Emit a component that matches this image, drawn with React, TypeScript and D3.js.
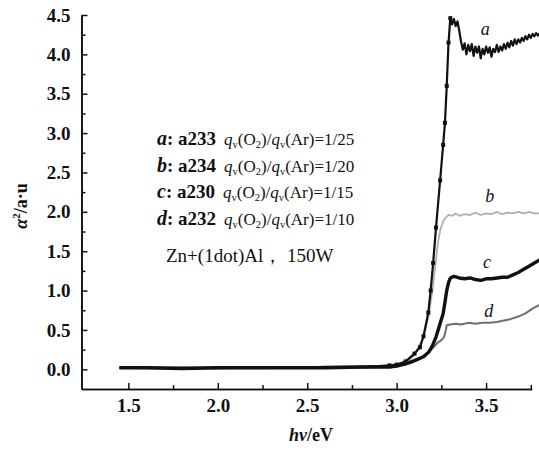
import React, { useEffect, useRef } from "react";
import * as d3 from "d3";

// photon energy (eV) and alpha^2 (a.u.)
const energyA = [1.45, 1.6, 1.8, 2.0, 2.2, 2.4, 2.6, 2.8, 2.9, 2.96, 3.0, 3.05, 3.1, 3.13, 3.15, 3.177, 3.19, 3.204, 3.22, 3.243, 3.26, 3.27, 3.28, 3.29, 3.3, 3.31, 3.32, 3.33, 3.34, 3.35, 3.36, 3.37, 3.38, 3.39, 3.4, 3.41, 3.42, 3.43, 3.44, 3.45, 3.46, 3.47, 3.48, 3.49, 3.5, 3.51, 3.52, 3.53, 3.54, 3.55, 3.56, 3.57, 3.58, 3.59, 3.6, 3.61, 3.62, 3.63, 3.64, 3.65, 3.66, 3.67, 3.68, 3.69, 3.7, 3.71, 3.72, 3.73, 3.74, 3.75, 3.76, 3.77, 3.78, 3.79, 3.8];
const alphaA = [0.02, 0.02, 0.02, 0.02, 0.02, 0.02, 0.03, 0.03, 0.04, 0.05, 0.06, 0.1, 0.2, 0.28, 0.42, 0.72, 1.0, 1.35, 1.8, 2.4, 2.85, 3.13, 3.6, 4.15, 4.46, 4.38, 4.45, 4.36, 4.42, 4.3, 4.16, 4.06, 4.14, 4.0, 4.12, 4.04, 4.13, 3.98, 4.1, 4.02, 4.1, 3.95, 4.07, 4.0, 4.1, 4.02, 4.09, 3.97, 4.07, 4.03, 4.12, 4.03, 4.1, 4.05, 4.13, 4.07, 4.15, 4.09, 4.17, 4.11, 4.19, 4.13, 4.19, 4.15, 4.21, 4.17, 4.23, 4.19, 4.25, 4.21, 4.26, 4.23, 4.27, 4.24, 4.27];

const energyB = [1.45, 1.6, 1.8, 2.0, 2.2, 2.4, 2.6, 2.8, 2.9, 2.96, 3.0, 3.05, 3.1, 3.15, 3.18, 3.2, 3.22, 3.23, 3.245, 3.26, 3.275, 3.29, 3.31, 3.33, 3.35, 3.38, 3.41, 3.44, 3.47, 3.5, 3.53, 3.56, 3.59, 3.62, 3.65, 3.68, 3.71, 3.74, 3.77, 3.8];
const alphaB = [0.02, 0.01, 0.02, 0.02, 0.01, 0.02, 0.02, 0.03, 0.03, 0.04, 0.05, 0.08, 0.18, 0.4, 0.7, 1.0, 1.4, 1.6, 1.78, 1.88, 1.93, 1.96, 1.95, 1.98, 1.95, 1.97, 1.96, 1.99, 1.96, 1.98, 1.97, 2.0, 1.97, 1.99, 1.98, 2.0, 1.98, 2.0, 1.98, 1.98];

const energyC = [1.45, 1.6, 1.8, 2.0, 2.2, 2.4, 2.6, 2.8, 2.9, 2.96, 3.0, 3.05, 3.1, 3.15, 3.18, 3.2, 3.22, 3.24, 3.26, 3.27, 3.28, 3.29, 3.3, 3.32, 3.35, 3.38, 3.41, 3.44, 3.47, 3.5, 3.53, 3.56, 3.59, 3.62, 3.65, 3.68, 3.71, 3.74, 3.77, 3.8];
const alphaC = [0.02, 0.02, 0.01, 0.02, 0.02, 0.02, 0.02, 0.03, 0.03, 0.03, 0.04, 0.07, 0.11, 0.16, 0.22, 0.3, 0.41, 0.56, 0.71, 0.85, 1.0, 1.1, 1.16, 1.18, 1.16, 1.15, 1.16, 1.14, 1.13, 1.15, 1.15, 1.16, 1.17, 1.17, 1.2, 1.23, 1.27, 1.31, 1.35, 1.39];

const energyD = [1.45, 1.6, 1.8, 2.0, 2.2, 2.4, 2.6, 2.8, 2.9, 2.96, 3.0, 3.04, 3.08, 3.13, 3.17, 3.21, 3.23, 3.25, 3.265, 3.275, 3.28, 3.3, 3.33, 3.36, 3.4, 3.44, 3.48, 3.52, 3.56, 3.6, 3.64, 3.68, 3.72, 3.76, 3.8];
const alphaD = [0.02, 0.02, 0.02, 0.01, 0.02, 0.02, 0.02, 0.02, 0.03, 0.03, 0.04, 0.06, 0.08, 0.14, 0.2, 0.29, 0.34, 0.37, 0.41, 0.5, 0.56, 0.57, 0.58, 0.57, 0.59, 0.58, 0.59, 0.59, 0.6, 0.62, 0.64, 0.67, 0.71, 0.77, 0.82];

// legend rows
const sampleLetters = ["a", "b", "c", "d"];
const sampleIds = ["a233", "a234", "a230", "a232"];
const flowRatios = ["1/25", "1/20", "1/15", "1/10"];
const targetNote = "Zn+(1dot)Al\uFF0C 150W";

// ticks
const xMajor = [1.5, 2.0, 2.5, 3.0, 3.5];
const xMinor = [1.75, 2.25, 2.75, 3.25, 3.75];
const yMajor = [0, 0.5, 1.0, 1.5, 2.0, 2.5, 3.0, 3.5, 4.0, 4.5];
const yMinor = [0.25, 0.75, 1.25, 1.75, 2.25, 2.75, 3.25, 3.75, 4.25];

const W = 539;
const H = 452;
const FONT = "Liberation Serif, Times New Roman, DejaVu Serif, serif";

const x = d3.scaleLinear().domain([1.238, 3.755]).range([81.5, 531.7]);
const y = d3.scaleLinear().domain([-0.25, 4.5]).range([389, 15]);

function pairs(xs: number[], ys: number[]) {
  return xs.map((v, i) => [v, ys[i]] as [number, number]);
}

const curves = [
  { id: "b", data: pairs(energyB, alphaB), color: "#b0b0b0", width: 1.8, label: [3.52, 2.12] },
  { id: "d", data: pairs(energyD, alphaD), color: "#6e6e6e", width: 2, label: [3.515, 0.66] },
  { id: "c", data: pairs(energyC, alphaC), color: "#111", width: 3.4, label: [3.505, 1.29] },
  { id: "a", data: pairs(energyA, alphaA), color: "#111", width: 2.2, label: [3.495, 4.25] },
];

function App() {
  const xAxisRef = useRef<SVGGElement>(null);
  const yAxisRef = useRef<SVGGElement>(null);

  useEffect(() => {
    const gx = d3.select(xAxisRef.current);
    gx.selectAll("*").remove();
    gx.append("g")
      .call(d3.axisBottom(x).tickValues(xMajor).tickSizeInner(-6).tickSizeOuter(0).tickPadding(10).tickFormat(d3.format(".1f")));
    gx.append("g")
      .call(d3.axisBottom(x).tickValues(xMinor).tickSizeInner(-4).tickSizeOuter(0).tickFormat(() => ""));
    gx.selectAll("g").attr("font-family", null);
    gx.selectAll(".domain").attr("stroke", "#111").attr("stroke-width", 1.6);
    gx.selectAll(".tick line").attr("stroke", "#111").attr("stroke-width", 1.5);
    gx.selectAll("text").style("font-family", FONT).attr("font-size", 19).attr("font-weight", "bold").attr("fill", "#111");

    const gy = d3.select(yAxisRef.current);
    gy.selectAll("*").remove();
    gy.append("g")
      .call(d3.axisLeft(y).tickValues(yMajor).tickSizeInner(-6).tickSizeOuter(0).tickPadding(11).tickFormat(d3.format(".1f")));
    gy.append("g")
      .call(d3.axisLeft(y).tickValues(yMinor).tickSizeInner(-4).tickSizeOuter(0).tickFormat(() => ""));
    gy.selectAll("g").attr("font-family", null);
    gy.selectAll(".domain").attr("stroke", "#111").attr("stroke-width", 1.6);
    gy.selectAll(".tick line").attr("stroke", "#111").attr("stroke-width", 1.5);
    gy.selectAll("text").style("font-family", FONT).attr("font-size", 19).attr("font-weight", "bold").attr("fill", "#111");
  }, []);

  const line = d3
    .line<[number, number]>()
    .x((d) => x(d[0]))
    .y((d) => y(d[1]));

  const riseA = pairs(energyA, alphaA).filter((d) => d[0] >= 2.96 && d[0] <= 3.3);

  return (
    <svg width={W} height={H} style={{ position: "absolute", left: 0, top: 0, background: "#fff", fontFamily: FONT }}>
      <rect width={W} height={H} fill="#fff" />
      {curves.map((c) => (
        <path key={c.id} d={line(c.data) || ""} fill="none" stroke={c.color} strokeWidth={c.width} strokeLinejoin="round" />
      ))}
      {riseA.map((d, i) => (
        <rect key={i} x={x(d[0]) - 2} y={y(d[1]) - 2} width={4} height={4} fill="#111" />
      ))}
      {curves.map((c) => (
        <text key={c.id + "l"} x={x(c.label[0])} y={y(c.label[1])} style={{ fontFamily: FONT }} fontStyle="italic" fontSize={18} textAnchor="middle" fill="#111">
          {c.id}
        </text>
      ))}

      <g ref={xAxisRef} transform={`translate(0,${y(-0.25)})`} />
      <g ref={yAxisRef} transform={`translate(${x(1.238)},0)`} />

      {sampleLetters.map((s, i) => (
        <text key={s} x={157} y={145 + i * 26.5} style={{ fontFamily: FONT }} fill="#111">
          <tspan fontSize={20} fontStyle="italic" fontWeight="bold">{s}</tspan>
          <tspan fontSize={19} fontWeight="bold">{": " + sampleIds[i]}</tspan>
          <tspan fontSize={17} fontStyle="italic" dx={8}>q</tspan>
          <tspan fontSize={10.5} dy={3}>v</tspan>
          <tspan fontSize={17} dy={-3}>(O</tspan>
          <tspan fontSize={10.5} dy={3}>2</tspan>
          <tspan fontSize={17} dy={-3}>)/</tspan>
          <tspan fontSize={17} fontStyle="italic">q</tspan>
          <tspan fontSize={10.5} dy={3}>v</tspan>
          <tspan fontSize={17} dy={-3}>{"(Ar)=" + flowRatios[i]}</tspan>
        </text>
      ))}
      <text x={166} y={262} style={{ fontFamily: FONT }} fontSize={19} fill="#111">
        {targetNote}
      </text>

      <text transform="translate(27,206) rotate(-90)" textAnchor="middle" style={{ fontFamily: FONT }} fontSize={18} fontWeight="bold" fill="#111">
        <tspan fontStyle="italic">α</tspan>
        <tspan fontSize={11} dy={-7}>2</tspan>
        <tspan dy={7}>/a·u</tspan>
      </text>
      <text x={311} y={441} textAnchor="middle" style={{ fontFamily: FONT }} fontSize={18} fontWeight="bold" fill="#111">
        <tspan fontStyle="italic">hν</tspan>
        <tspan>/eV</tspan>
      </text>
    </svg>
  );
}

export default App;
